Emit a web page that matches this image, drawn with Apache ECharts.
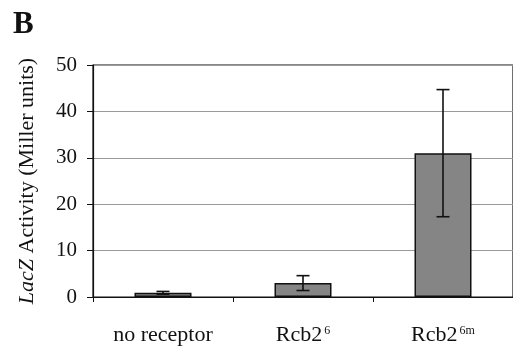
<!DOCTYPE html>
<html>
<head>
<meta charset="utf-8">
<script src="https://cdn.jsdelivr.net/npm/echarts@6/dist/echarts.min.js"></script>
<style>
  html, body { margin: 0; padding: 0; background: #fff; }
  #chart { width: 513px; height: 346px; }
</style>
</head>
<body>
<div id="chart"></div>
<script>
// data
const categories = ['no receptor', 'Rcb2^6', 'Rcb2^6m'];
const activity = [0.9, 3.0, 31.0];
const errors = [0.3, 1.6, 13.7];
const yTicks = [0, 10, 20, 30, 40, 50];

const FONT = '"Liberation Serif", "Times New Roman", serif';

// "Rcb2^6m" -> rich text with superscript
const formatCategory = (name) => {
  const parts = name.split('^');
  if (parts.length === 1) return '{base|' + name + '}';
  return '{base|' + parts[0] + '}{sup|' + parts[1] + '}';
};

const errorItem = (params, api) => {
  const idx = api.value(0);
  const mean = api.value(1);
  const err = api.value(2);
  const top = api.coord([idx, mean + err]);
  const bottom = api.coord([idx, mean - err]);
  const half = 6.5;
  const style = { stroke: '#111', lineWidth: 1.6 };
  return {
    type: 'group',
    children: [
      { type: 'line', shape: { x1: top[0], y1: top[1], x2: bottom[0], y2: bottom[1] }, style: style },
      { type: 'line', shape: { x1: top[0] - half, y1: top[1], x2: top[0] + half, y2: top[1] }, style: style },
      { type: 'line', shape: { x1: bottom[0] - half, y1: bottom[1], x2: bottom[0] + half, y2: bottom[1] }, style: style },
    ],
  };
};

const chart = echarts.init(document.getElementById('chart'));
chart.setOption({
  animation: false,
  backgroundColor: '#fff',
  textStyle: { fontFamily: FONT },
  title: {
    text: 'B',
    left: 8,
    top: 4,
    textStyle: { fontFamily: FONT, fontWeight: 'bold', fontSize: 31, color: '#111' },
  },
  grid: {
    left: 93,
    right: -3,
    top: 65,
    bottom: 49,
    show: true,
    borderColor: '#111',
    borderWidth: 1.2,
  },
  xAxis: {
    type: 'category',
    data: categories,
    axisLine: { lineStyle: { color: '#111', width: 1.2 } },
    axisTick: { show: true, length: 5, lineStyle: { color: '#111' } },
    axisLabel: {
      margin: 26,
      formatter: formatCategory,
      rich: {
        base: { fontFamily: FONT, fontSize: 22, color: '#111', lineHeight: 24 },
        sup: { fontFamily: FONT, fontSize: 12, color: '#111', padding: [0, 0, 8, 2] },
      },
    },
  },
  yAxis: {
    type: 'value',
    min: yTicks[0],
    max: yTicks[yTicks.length - 1],
    interval: 10,
    name: '{it|LacZ} Activity (Miller units)',
    nameLocation: 'middle',
    nameGap: 55,
    nameRotate: 90,
    nameTextStyle: {
      fontFamily: FONT,
      fontSize: 22,
      color: '#111',
      rich: {
        it: { fontFamily: FONT, fontSize: 22, fontStyle: 'italic', color: '#111' },
      },
    },
    axisLine: { show: true, lineStyle: { color: '#111', width: 1.2 } },
    axisTick: { show: true, length: 6, lineStyle: { color: '#111' } },
    axisLabel: { margin: 16, fontFamily: FONT, fontSize: 21, color: '#111' },
    splitLine: { lineStyle: { color: '#9a9a9a', width: 1.2 } },
  },
  series: [
    {
      type: 'bar',
      data: activity,
      barWidth: 57,
      itemStyle: { color: '#858585', borderColor: '#111', borderWidth: 1.5 },
      z: 2,
    },
    {
      type: 'custom',
      renderItem: errorItem,
      data: activity.map((v, i) => [i, v, errors[i]]),
      z: 3,
    },
  ],
});
</script>
</body>
</html>
